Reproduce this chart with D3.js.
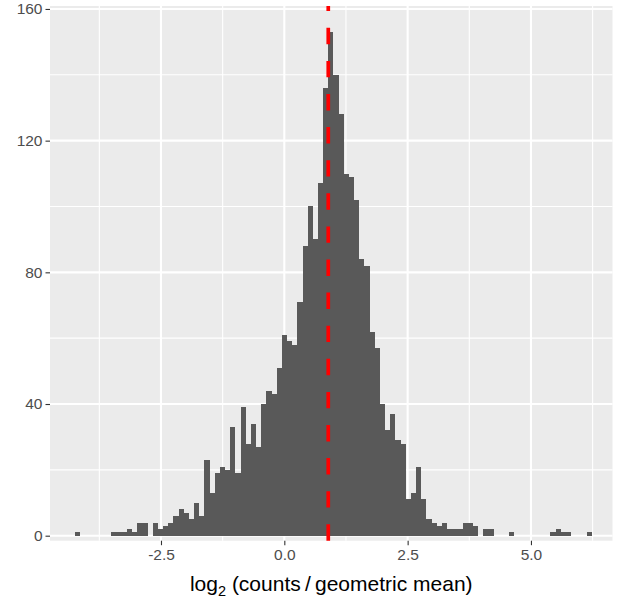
<!DOCTYPE html>
<html>
<head>
<meta charset="utf-8">
<script src="https://cdn.jsdelivr.net/npm/d3@7"></script>
<style>
  html, body { margin: 0; padding: 0; background: #ffffff; }
  svg { display: block; }
  text { font-family: "Liberation Sans", Arial, Helvetica, sans-serif; }
</style>
</head>
<body>
<svg id="chart" width="618" height="604"></svg>
<script>
// Histogram of log2(counts / geometric mean): 100 equal-width bins.
const binStart = -4.237;     // lower edge of the first bin
const binWidth = 0.10468;    // width of every bin
const binCounts = [
  1, 0, 0, 0, 0, 0, 0, 1, 1, 1,
  2, 1, 4, 4, 0, 4, 2, 3, 4, 6,
  8, 7, 5, 10, 6, 23, 13, 19, 21, 20,
  33, 19, 39, 28, 34, 27, 40, 44, 43, 51,
  61, 59, 58, 71, 88, 100, 90, 107, 136, 153,
  140, 128, 110, 109, 102, 84, 82, 62, 57, 40,
  32, 37, 29, 28, 11, 13, 21, 11, 5, 4,
  3, 4, 2, 2, 2, 4, 4, 3, 0, 2,
  2, 0, 0, 0, 1, 0, 0, 0, 0, 0,
  0, 0, 1, 2, 1, 1, 0, 0, 0, 1
];
const meanLine = 0.891;      // reference value marked by the dashed line

const xMajor = [-2.5, 0, 2.5, 5];
const xMinor = [-3.75, -1.25, 1.25, 3.75, 6.25];
const yMajor = [0, 40, 80, 120, 160];
const yMinor = [20, 60, 100, 140];
const xDomain = [-4.750, 6.653];
const yDomain = [-1.52, 160.9];

const panel = { left: 50, right: 612.5, top: 6, bottom: 540.7 };

const x = d3.scaleLinear().domain(xDomain).range([panel.left, panel.right]);
const y = d3.scaleLinear().domain(yDomain).range([panel.bottom, panel.top]);

const svg = d3.select("#chart");

// Panel background
svg.append("rect")
  .attr("x", panel.left).attr("y", panel.top)
  .attr("width", panel.right - panel.left)
  .attr("height", panel.bottom - panel.top)
  .attr("fill", "#EBEBEB");

const grid = svg.append("g");
grid.selectAll(".ymin").data(yMinor).join("line")
  .attr("x1", panel.left).attr("x2", panel.right)
  .attr("y1", d => y(d)).attr("y2", d => y(d))
  .attr("stroke", "#ffffff").attr("stroke-width", 1.1);
grid.selectAll(".xmin").data(xMinor).join("line")
  .attr("y1", panel.top).attr("y2", panel.bottom)
  .attr("x1", d => x(d)).attr("x2", d => x(d))
  .attr("stroke", "#ffffff").attr("stroke-width", 1.1);
grid.selectAll(".ymaj").data(yMajor).join("line")
  .attr("x1", panel.left).attr("x2", panel.right)
  .attr("y1", d => y(d)).attr("y2", d => y(d))
  .attr("stroke", "#ffffff").attr("stroke-width", 2.1);
grid.selectAll(".xmaj").data(xMajor).join("line")
  .attr("y1", panel.top).attr("y2", panel.bottom)
  .attr("x1", d => x(d)).attr("x2", d => x(d))
  .attr("stroke", "#ffffff").attr("stroke-width", 2.1);

// Bars
const bins = binCounts.map((c, i) => ({
  x0: binStart + i * binWidth,
  x1: binStart + (i + 1) * binWidth,
  count: c
}));
svg.append("g").selectAll("rect").data(bins.filter(b => b.count > 0)).join("rect")
  .attr("x", d => x(d.x0))
  .attr("width", d => x(d.x1) - x(d.x0))
  .attr("y", d => y(d.count))
  .attr("height", d => y(0) - y(d.count))
  .attr("fill", "#595959")
  .attr("shape-rendering", "crispEdges");

// Dashed vertical reference line, drawn upward from the panel bottom
svg.append("line")
  .attr("x1", x(meanLine)).attr("x2", x(meanLine))
  .attr("y1", panel.bottom).attr("y2", panel.top)
  .attr("stroke", "#FF0000")
  .attr("stroke-width", 3.7)
  .attr("stroke-dasharray", "16.4,16.7");

// Axes
const yAxis = svg.append("g")
  .attr("transform", `translate(${panel.left},0)`)
  .call(d3.axisLeft(y).tickValues(yMajor).tickSize(4.5).tickPadding(3).tickFormat(d3.format("d")));
const xAxis = svg.append("g")
  .attr("transform", `translate(0,${panel.bottom})`)
  .call(d3.axisBottom(x).tickValues(xMajor).tickSize(4.5).tickPadding(4).tickFormat(d3.format(".1f")));

[yAxis, xAxis].forEach(g => {
  g.select(".domain").remove();
  g.selectAll(".tick line").attr("stroke", "#333333").attr("stroke-width", 1.1);
  g.selectAll(".tick text")
    .attr("fill", "#4D4D4D")
    .style("font-size", "15.5px")
    .style("font-family", "'Liberation Sans', Arial, Helvetica, sans-serif");
});
xAxis.selectAll(".tick text").text(d => d3.format(".1f")(d).replace("−", "-"));

// Axis title: log₂ (counts/geometric mean)
const title = svg.append("text")
  .attr("x", (panel.left + panel.right) / 2)
  .attr("y", 591)
  .attr("text-anchor", "middle")
  .attr("fill", "#000000")
  .style("font-size", "21px");
title.append("tspan").text("log");
title.append("tspan").attr("dy", 5).style("font-size", "14.5px").text("2");
title.append("tspan").attr("dy", -5).text(" (counts\u2009/\u2009geometric mean)");
</script>
</body>
</html>
